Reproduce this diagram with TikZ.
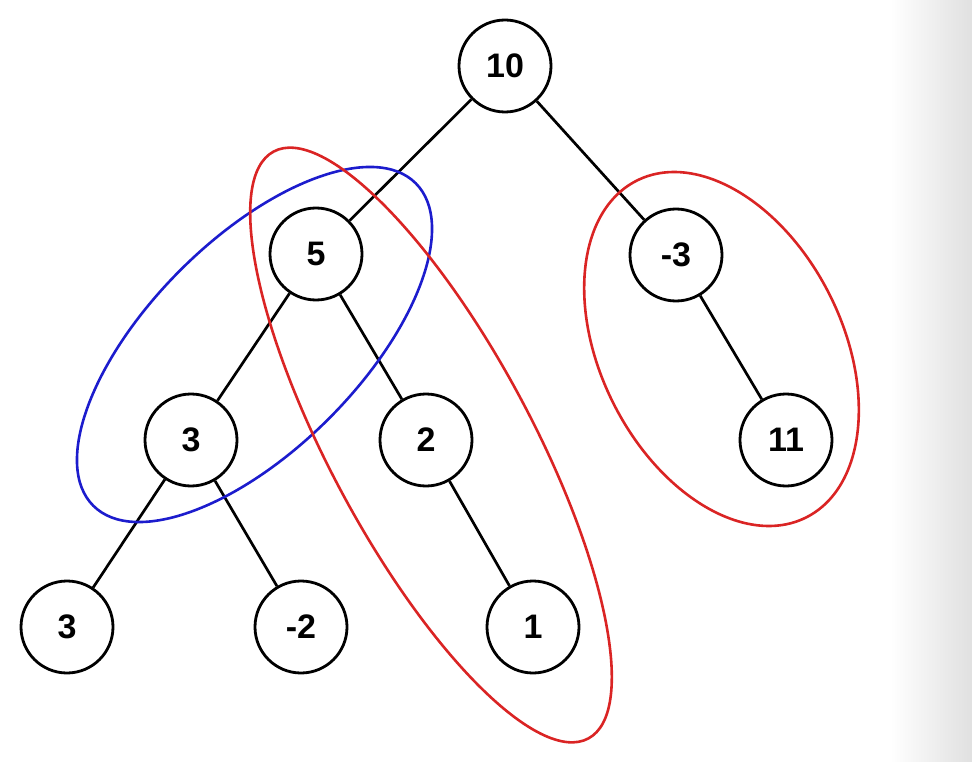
\documentclass[tikz,border=0pt]{standalone}
\usepackage{fontspec}
\setmainfont{Liberation Sans}
\definecolor{grpred}{RGB}{218,36,36}
\definecolor{grpblue}{RGB}{28,28,205}
\begin{document}
\begin{tikzpicture}[x=1pt,y=-1pt,
  tn/.style={circle, draw, line width=2.8pt, minimum size=92pt, inner sep=0pt,
             font=\bfseries\fontsize{34}{34}\selectfont},
  edge/.style={line width=2.7pt},
  grp/.style={line width=2.6pt}]
\useasboundingbox (0,0) rectangle (972,762);
\shade[left color=white, right color=black!12, draw=none] (890,0) rectangle (972,762);

\node[tn] (n10) at (505,66) {10};
\node[tn] (n5) at (316,254) {5};
\node[tn] (nm3) at (676,255) {-3};
\node[tn] (n3) at (191,440) {3};
\node[tn] (n2) at (426,440) {2};
\node[tn] (n11) at (786,440) {11};
\node[tn] (n3b) at (67,627) {3};
\node[tn] (nm2) at (301,627) {-2};
\node[tn] (n1) at (533,627) {1};

\draw[edge] (n10) -- (n5);
\draw[edge] (n10) -- (nm3);
\draw[edge] (n5) -- (n3);
\draw[edge] (n5) -- (n2);
\draw[edge] (nm3) -- (n11);
\draw[edge] (n3) -- (n3b);
\draw[edge] (n3) -- (nm2);
\draw[edge] (n2) -- (n1);

\draw[grp, grpblue, rotate around={45:(254.5,344.5)}] (254.5,344.5) ellipse [x radius=228pt, y radius=105pt];
\draw[grp, grpred, rotate around={-61.8:(431,445)}] (431,445) ellipse [x radius=333pt, y radius=101pt];
\draw[grp, grpred, rotate around={-63.3:(721.5,349)}] (721.5,349) ellipse [x radius=188.5pt, y radius=121pt];
\end{tikzpicture}
\end{document}
